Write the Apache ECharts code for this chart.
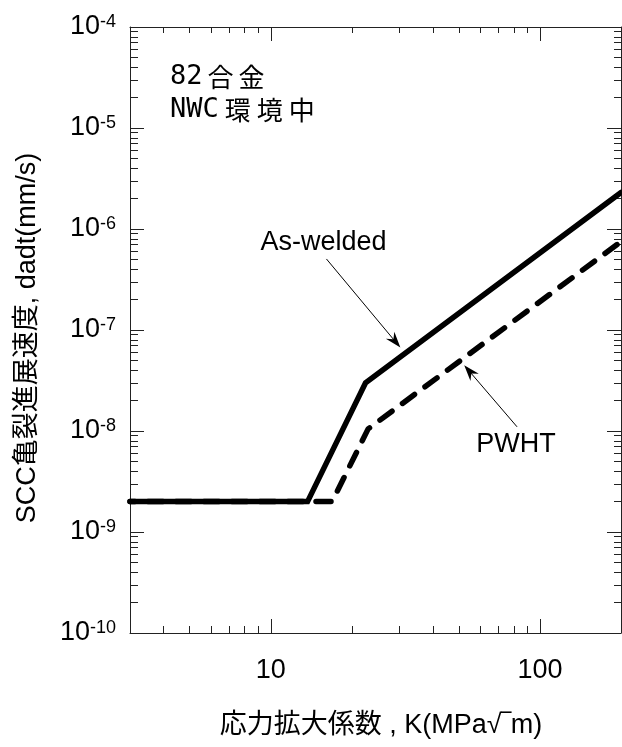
<!DOCTYPE html>
<html>
<head>
<meta charset="utf-8">
<script src="https://cdn.jsdelivr.net/npm/echarts@6/dist/echarts.min.js"></script>
<style>
  html, body { margin: 0; padding: 0; background: #fff; }
  #chart { width: 622px; height: 747px; }
</style>
</head>
<body>
<div id="chart"></div>
<script>
// Crack growth rate curves: [K (MPa√m), da/dt (mm/s)]
const asWelded = [[3, 2e-9], [13.7, 2e-9], [22.5, 3e-8], [200, 2.3e-6]];
const pwht = [[3, 2e-9], [16.9, 2e-9], [23, 1.05e-8], [200, 7.5e-7]];

// Axis ranges and labelled ticks
const xRange = [3, 200];
const yRange = [1e-10, 1e-4];
const xMajorTicks = [10, 100];
const yMajorTicks = [1e-10, 1e-9, 1e-8, 1e-7, 1e-6, 1e-5, 1e-4];

// Callouts: arrow [from, to] and label anchor, in data units
const asWeldedArrow = [[16.1, 5.05e-7], [29.0, 7.7e-8]];
const pwhtArrow = [[82.2, 1.1e-8], [54.7, 3.9e-8]];
const asWeldedLabel = [15.7, 7.3e-7];
const pwhtLabel = [81.5, 7.3e-9];

const LATIN = '"Liberation Sans", Arial, "Noto Sans CJK JP", sans-serif';
const CJK = '"Noto Sans CJK JP", sans-serif';
const AXIS_COLOR = '#222';

// 2..9 × 10^n positions strictly inside a log range
function minorTicks(lo, hi) {
  const out = [];
  for (let e = Math.floor(Math.log10(lo)); e <= Math.ceil(Math.log10(hi)); e++) {
    for (let d = 2; d <= 9; d++) {
      const v = d * Math.pow(10, e);
      if (v > lo * 1.0001 && v < hi * 0.9999) out.push(v);
    }
  }
  return out;
}
const xMinorTicks = minorTicks(xRange[0], xRange[1]);
const yMinorTicks = minorTicks(yRange[0], yRange[1]);

function logAxis(range, position, ticks, tickLen, showLine, label) {
  return {
    type: 'log',
    logBase: 10,
    min: range[0],
    max: range[1],
    position: position,
    axisLine: { show: showLine, onZero: false, lineStyle: { color: AXIS_COLOR, width: 1 } },
    axisTick: {
      show: true, inside: true, length: tickLen, customValues: ticks,
      lineStyle: { color: AXIS_COLOR, width: 1 }
    },
    axisLabel: label ? Object.assign({ customValues: ticks }, label) : { show: false },
    splitLine: { show: false },
    minorTick: { show: false },
    minorSplitLine: { show: false }
  };
}

const xLabel = {
  show: true, fontSize: 27, fontFamily: LATIN, color: '#000', margin: 24
};
const yLabel = {
  show: true, margin: 14,
  formatter: v => '{b|10}{s|' + Math.round(Math.log10(v)) + '}',
  rich: {
    b: { fontSize: 27, fontFamily: LATIN, color: '#000', verticalAlign: 'middle' },
    s: { fontSize: 18, fontFamily: LATIN, color: '#000', verticalAlign: 'top', padding: [0, 0, 7, 0] }
  }
};

const arrowHead = 'path://M5,0 L10,14 L5,9.5 L0,14 Z';

const chart = echarts.init(document.getElementById('chart'), null, { renderer: 'canvas' });

chart.setOption({
  animation: false,
  backgroundColor: '#fff',
  grid: { left: 130, right: 1, top: 27, bottom: 114, containLabel: false },
  xAxis: [
    logAxis(xRange, 'bottom', xMajorTicks, 14, true, xLabel),
    logAxis(xRange, 'bottom', xMinorTicks, 7, false, null),
    logAxis(xRange, 'top', xMajorTicks, 14, true, null),
    logAxis(xRange, 'top', xMinorTicks, 6, false, null)
  ],
  yAxis: [
    logAxis(yRange, 'left', yMajorTicks, 14, true, yLabel),
    logAxis(yRange, 'left', yMinorTicks, 8, false, null),
    logAxis(yRange, 'right', yMajorTicks, 14, true, null),
    logAxis(yRange, 'right', yMinorTicks, 7, false, null)
  ],
  series: [
    {
      name: 'PWHT',
      type: 'line',
      xAxisIndex: 0, yAxisIndex: 0,
      data: pwht,
      symbol: 'none',
      clip: true,
      lineStyle: { color: '#000', width: 5.5, type: [15, 13], dashOffset: 10, cap: 'round', join: 'round' },
      markLine: {
        silent: true,
        symbol: ['none', arrowHead],
        symbolSize: [11, 16],
        label: { show: false },
        lineStyle: { color: '#000', width: 1, type: 'solid' },
        data: [[{ coord: pwhtArrow[0] }, { coord: pwhtArrow[1] }]]
      },
      markPoint: {
        silent: true,
        symbol: 'circle', symbolSize: 1,
        itemStyle: { color: 'rgba(0,0,0,0)' },
        label: { show: true, position: 'inside', formatter: '{b}', fontSize: 27, fontFamily: LATIN, color: '#000' },
        data: [{ name: 'PWHT', coord: pwhtLabel }]
      }
    },
    {
      name: 'As-welded',
      type: 'line',
      xAxisIndex: 0, yAxisIndex: 0,
      data: asWelded,
      symbol: 'none',
      clip: true,
      lineStyle: { color: '#000', width: 5.5, type: 'solid', cap: 'round', join: 'miter' },
      markLine: {
        silent: true,
        symbol: ['none', arrowHead],
        symbolSize: [11, 16],
        label: { show: false },
        lineStyle: { color: '#000', width: 1, type: 'solid' },
        data: [[{ coord: asWeldedArrow[0] }, { coord: asWeldedArrow[1] }]]
      },
      markPoint: {
        silent: true,
        symbol: 'circle', symbolSize: 1,
        itemStyle: { color: 'rgba(0,0,0,0)' },
        label: { show: true, position: 'inside', formatter: '{b}', fontSize: 27, fontFamily: LATIN, color: '#000' },
        data: [{ name: 'As-welded', coord: asWeldedLabel }]
      }
    }
  ],
  graphic: [
    {
      type: 'text', x: 28, y: 338, rotation: Math.PI / 2,
      style: {
        text: 'SCC亀裂進展速度, dadt(mm/s)',
        font: '27px ' + LATIN, fill: '#000', align: 'center', verticalAlign: 'middle'
      }
    },
    {
      type: 'text', x: 381, y: 726,
      style: {
        text: '応力拡大係数 , K(MPa√‾m)',
        font: '27px ' + LATIN, fill: '#000', align: 'center', verticalAlign: 'middle'
      }
    },
    {
      type: 'text', x: 170, y: 77,
      style: {
        text: '{m|82}{k|合}{k|金}',
        fill: '#000', align: 'left', verticalAlign: 'middle',
        rich: {
          m: { fontFamily: '"DejaVu Sans Mono", monospace', fontSize: 27, verticalAlign: 'middle' },
          k: { fontFamily: CJK, fontSize: 26, padding: [0, 0, 0, 5], verticalAlign: 'middle' }
        }
      }
    },
    {
      type: 'text', x: 170, y: 110,
      style: {
        text: '{m|NWC}{k|環}{k|境}{k|中}',
        fill: '#000', align: 'left', verticalAlign: 'middle',
        rich: {
          m: { fontFamily: '"DejaVu Sans Mono", monospace', fontSize: 27, verticalAlign: 'middle' },
          k: { fontFamily: CJK, fontSize: 26, padding: [0, 0, 0, 6], verticalAlign: 'middle' }
        }
      }
    }
  ]
});
</script>
</body>
</html>
